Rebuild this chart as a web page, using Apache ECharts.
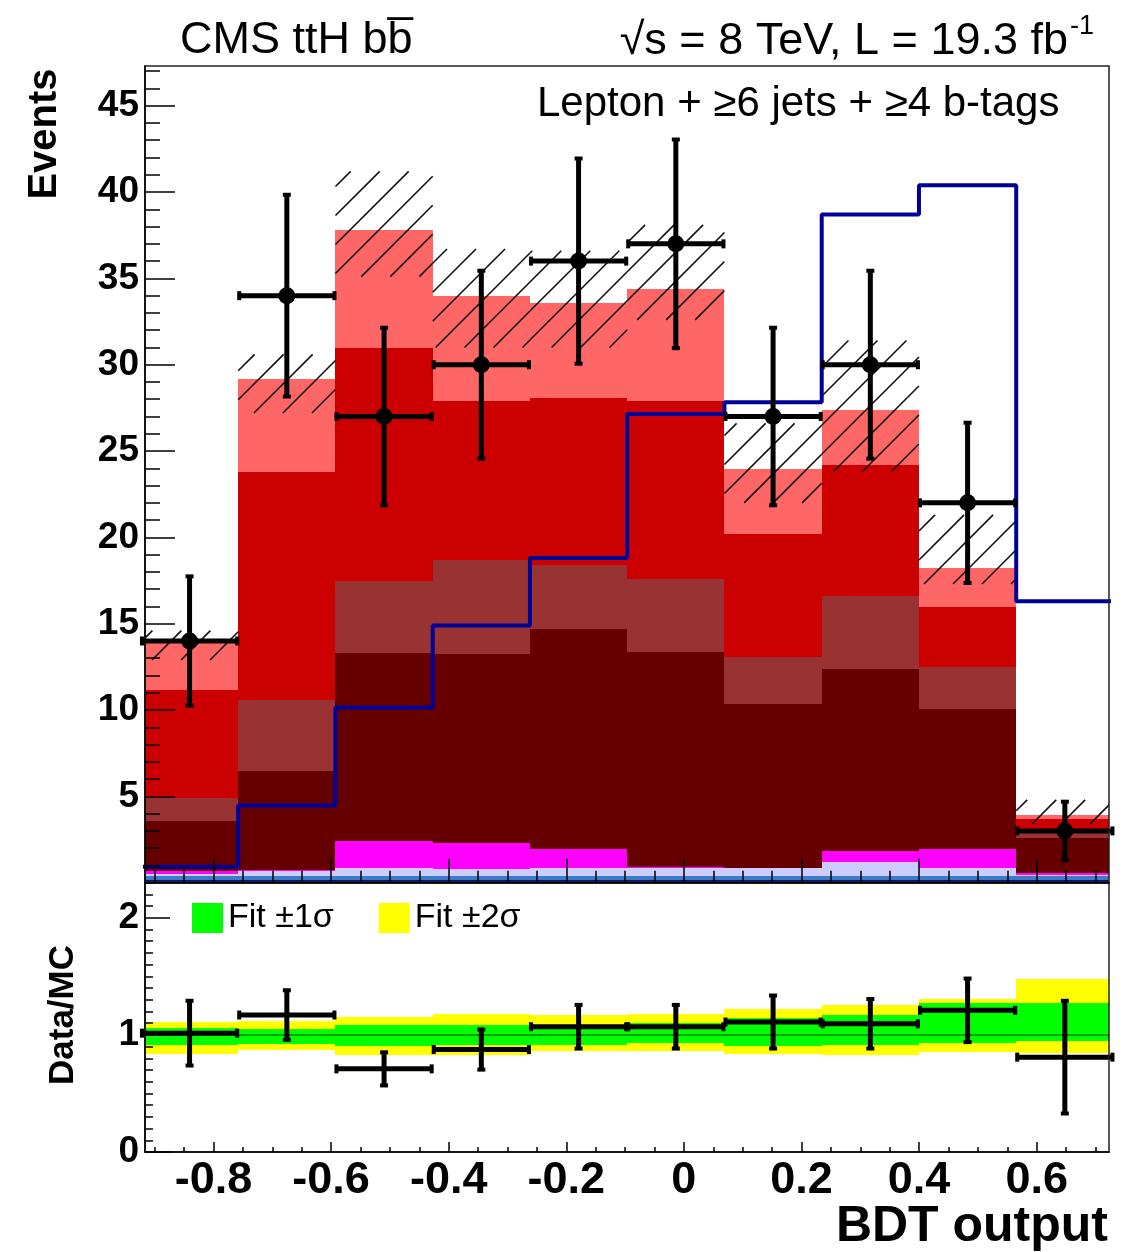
<!DOCTYPE html>
<html>
<head>
<meta charset="utf-8">
<title>CMS ttH bb - BDT output</title>
<script src="https://cdn.jsdelivr.net/npm/echarts@6.0.0/dist/echarts.min.js"></script>
<style>
  html, body { margin: 0; padding: 0; background: #fff; }
  #chart { width: 1127px; height: 1252px; }
</style>
</head>
<body>
<div id="chart"></div>
<script>
// histogram binning (BDT output)
var binEdges = [-0.9234, -0.758, -0.5926, -0.4272, -0.2618, -0.0964, 0.069, 0.2344, 0.3998, 0.5652, 0.7306];

// stacked backgrounds, events per bin, bottom of the stack first
var ttH       = [0.15, 0.15, 0.15, 0.15, 0.15, 0.15, 0.15, 0.15, 0.15, 0.15];
var ewk       = [0.25, 0.25, 0.25, 0.25, 0.25, 0.25, 0.25, 0.25, 0.25, 0.25];
var ttV       = [0.10, 0.28, 0.43, 0.38, 0.48, 0.48, 0.43, 0.78, 0.48, 0.05];
var singleTop = [0.19, 0.03, 1.60, 1.50, 1.07, 0.03, 0.03, 0.67, 1.10, 0.13];
var ttbb      = [2.89, 5.77, 10.85, 10.95, 12.73, 12.47, 9.47, 10.53, 8.10, 2.02];
var ttb       = [1.30, 4.10, 4.20, 5.45, 3.70, 4.20, 2.75, 4.20, 2.40, 0.30];
var ttcc      = [6.30, 13.20, 13.50, 9.20, 9.70, 10.30, 7.10, 7.60, 3.50, 0.80];
var ttlf      = [2.70, 5.40, 6.80, 6.10, 5.50, 6.50, 3.80, 3.20, 2.25, 0.20];

// total background uncertainty (hatched band)
var uncLow  = [12.9, 27.2, 35.1, 31.0, 31.0, 32.6, 22.0, 23.8, 17.3, 3.4];
var uncHigh = [14.6, 30.6, 41.2, 36.7, 36.6, 38.1, 26.6, 31.4, 21.3, 4.8];

// ttH signal (scaled), drawn as a line
var signal = [0.93, 4.47, 10.15, 14.9, 18.8, 27.14, 27.83, 38.7, 40.4, 16.3];

// data
var dataVals = [14, 34, 27, 30, 36, 37, 27, 30, 22, 3];
var dataErr  = [3.8, 5.9, 5.2, 5.5, 6.0, 6.1, 5.2, 5.5, 4.7, 1.75];

// ratio panel
var ratioVals = [1.015, 1.17, 0.71, 0.875, 1.07, 1.07, 1.11, 1.095, 1.21, 0.81];
var ratioErr  = [0.285, 0.22, 0.15, 0.18, 0.195, 0.195, 0.235, 0.22, 0.28, 0.49];
var fit1Low  = [0.91, 0.925, 0.902, 0.91, 0.916, 0.93, 0.902, 0.916, 0.93, 0.945];
var fit1High = [1.058, 1.053, 1.087, 1.081, 1.087, 1.10, 1.143, 1.17, 1.27, 1.27];
var fit2Low  = [0.84, 0.87, 0.826, 0.826, 0.86, 0.86, 0.84, 0.826, 0.85, 0.845];
var fit2High = [1.11, 1.115, 1.149, 1.18, 1.166, 1.18, 1.22, 1.257, 1.305, 1.475];

// axis ticks
var xTicks = [-0.8, -0.6, -0.4, -0.2, 0, 0.2, 0.4, 0.6];
var xTickLabels = ['-0.8', '-0.6', '-0.4', '-0.2', '0', '0.2', '0.4', '0.6'];
var yTicks = [5, 10, 15, 20, 25, 30, 35, 40, 45];
var rTicks = [0, 1, 2];

var FONT = '"Liberation Sans", Arial, Helvetica, sans-serif';

var xMinorTicks = [];
for (var k = -18; k <= 14; k++) xMinorTicks.push(Math.round(k * 5) / 100);
var yMinorTicks = [];
for (var k = 1; k <= 47; k++) yMinorTicks.push(k);
var rMinorTicks = [];
for (var k = 1; k <= 23; k++) rMinorTicks.push(k / 10);

// build stacked rectangles [x0, x1, bottom, top]
var components = [
  { name: 'ttH', vals: ttH, color: '#14145a' },
  { name: 'EWK', vals: ewk, color: '#3a7cc8' },
  { name: 'tt+V', vals: ttV, color: '#ccccff' },
  { name: 'single t', vals: singleTop, color: '#ff00ff' },
  { name: 'tt+bb', vals: ttbb, color: '#660000' },
  { name: 'tt+b', vals: ttb, color: '#993333' },
  { name: 'tt+cc', vals: ttcc, color: '#cc0000' },
  { name: 'tt+lf', vals: ttlf, color: '#ff6666' }
];
var base = dataVals.map(function () { return 0; });
var stackSeries = components.map(function (c) {
  var rows = c.vals.map(function (v, i) {
    var row = [binEdges[i], binEdges[i + 1], base[i], base[i] + v];
    base[i] += v;
    return row;
  });
  return {
    type: 'custom', name: c.name, xAxisIndex: 0, yAxisIndex: 0,
    renderItem: rectItem, clip: true, z: 2,
    itemStyle: { color: c.color },
    encode: { x: [0, 1], y: [2, 3] },
    data: rows
  };
});

function rectItem(params, api) {
  var p0 = api.coord([api.value(0), api.value(3)]);
  var p1 = api.coord([api.value(1), api.value(2)]);
  var x0 = Math.round(p0[0]), x1 = Math.round(p1[0]);
  var y0 = Math.round(p0[1]), y1 = Math.round(p1[1]);
  return {
    type: 'rect',
    shape: { x: x0, y: y0, width: x1 - x0, height: y1 - y0 },
    style: { fill: api.visual('color') }
  };
}

function hatchItem(params, api) {
  var p0 = api.coord([api.value(0), api.value(3)]);
  var p1 = api.coord([api.value(1), api.value(2)]);
  var x0 = p0[0], y0 = p0[1], x1 = p1[0], y1 = p1[1];
  var step = 29, lines = [];
  for (var c = Math.floor((x0 + y0) / step) * step; c <= x1 + y1; c += step) {
    var xa = Math.max(x0, c - y1), xb = Math.min(x1, c - y0);
    if (xb - xa > 1) {
      lines.push({
        type: 'line',
        shape: { x1: xa, y1: c - xa, x2: xb, y2: c - xb },
        style: { stroke: '#111', lineWidth: 1.6 }
      });
    }
  }
  return { type: 'group', children: lines };
}

function makePointItem(marker) {
  return function (params, api) {
    var xc = api.value(0), v = api.value(1), e = api.value(2);
    var c = api.coord([xc, v]);
    var left = api.coord([api.value(3), v])[0];
    var right = api.coord([api.value(4), v])[0];
    var top = api.coord([xc, v + e])[1];
    var bot = api.coord([xc, v - e])[1];
    var st = { stroke: '#000', lineWidth: 5 };
    var kids = [
      { type: 'line', shape: { x1: left, y1: c[1], x2: right, y2: c[1] }, style: st },
      { type: 'line', shape: { x1: c[0], y1: top, x2: c[0], y2: bot }, style: st },
      { type: 'rect', shape: { x: left - 1, y: c[1] - 4.5, width: 4, height: 9 }, style: { fill: '#000' } },
      { type: 'rect', shape: { x: right - 3, y: c[1] - 4.5, width: 4, height: 9 }, style: { fill: '#000' } },
      { type: 'rect', shape: { x: c[0] - 4, y: top - 1, width: 8, height: 4 }, style: { fill: '#000' } },
      { type: 'rect', shape: { x: c[0] - 4, y: bot - 3, width: 8, height: 4 }, style: { fill: '#000' } }
    ];
    if (marker) {
      kids.push({ type: 'circle', shape: { cx: c[0], cy: c[1], r: 8.5 }, style: { fill: '#000' } });
    }
    return { type: 'group', children: kids };
  };
}

function binRows(lo, hi) {
  return lo.map(function (v, i) { return [binEdges[i], binEdges[i + 1], v, hi[i]]; });
}
function pointRows(vals, errs) {
  return vals.map(function (v, i) {
    return [(binEdges[i] + binEdges[i + 1]) / 2, v, errs[i], binEdges[i], binEdges[i + 1]];
  });
}

var signalLine = signal.map(function (v, i) { return [binEdges[i], v]; });
signalLine.push([binEdges[binEdges.length - 1], signal[signal.length - 1]]);

var X_MIN = -0.9165, X_MAX = 0.723;

function xAxisDef(grid, ticks, len, labels) {
  return {
    type: 'value', gridIndex: grid, position: 'bottom', min: X_MIN, max: X_MAX, z: 11,
    axisLine: { show: labels !== null, onZero: false, lineStyle: { color: '#000', width: 1.5 } },
    axisTick: { show: true, inside: true, length: len, customValues: ticks, lineStyle: { color: '#000', width: 1.5 } },
    axisLabel: labels ? {
      show: true, customValues: xTicks, margin: 6,
      fontSize: 45, fontWeight: 'bold', fontFamily: FONT, color: '#000',
      formatter: function (v) {
        for (var i = 0; i < xTicks.length; i++) if (Math.abs(xTicks[i] - v) < 1e-6) return xTickLabels[i];
        return '';
      }
    } : { show: false },
    splitLine: { show: false }
  };
}
function yAxisDef(grid, min, max, ticks, len, labels) {
  return {
    type: 'value', gridIndex: grid, position: 'left', min: min, max: max, z: 11,
    axisLine: { show: labels !== null, onZero: false, lineStyle: { color: '#000', width: 1.5 } },
    axisTick: { show: true, inside: true, length: len, customValues: ticks, lineStyle: { color: '#000', width: 1.5 } },
    axisLabel: labels ? {
      show: true, customValues: labels, margin: 6,
      fontSize: 37, fontWeight: 'bold', fontFamily: FONT, color: '#000'
    } : { show: false },
    splitLine: { show: false }
  };
}

var chart = echarts.init(document.getElementById('chart'));
chart.setOption({
  animation: false,
  backgroundColor: '#fff',
  grid: [
    { left: 145, top: 66, width: 964, height: 816.7, show: true, z: 10,
      backgroundColor: 'rgba(0,0,0,0)', borderColor: '#222', borderWidth: 1.5 },
    { left: 145, top: 882.7, width: 964, height: 269.3, show: true, z: 10,
      backgroundColor: 'rgba(0,0,0,0)', borderColor: '#222', borderWidth: 1.5 }
  ],
  xAxis: [
    xAxisDef(0, xTicks, 24, false),
    xAxisDef(0, xMinorTicks, 12, null),
    xAxisDef(1, xTicks, 10, true),
    xAxisDef(1, xMinorTicks, 5, null)
  ],
  yAxis: [
    yAxisDef(0, 0, 47.3, yTicks, 30, yTicks),
    yAxisDef(0, 0, 47.3, yMinorTicks, 15, null),
    yAxisDef(1, 0, 2.3, rTicks, 25, rTicks),
    yAxisDef(1, 0, 2.3, rMinorTicks, 8, null)
  ],
  legend: {
    data: ['Fit ±1σ', 'Fit ±2σ'],
    left: 187, top: 896, icon: 'rect', itemWidth: 31, itemHeight: 30, itemGap: 45,
    selectedMode: false,
    textStyle: { fontSize: 34, fontFamily: FONT, color: '#000' }
  },
  graphic: [
    { type: 'text', x: 180, y: 41, style: { text: 'CMS ttH bb\u0305', fontSize: 45, fontFamily: FONT, fill: '#000', align: 'left', verticalAlign: 'middle' } },
    { type: 'text', x: 1068, y: 42, style: { text: '\u221As = 8 TeV, L = 19.3 fb', fontSize: 45, fontFamily: FONT, fill: '#000', align: 'right', verticalAlign: 'middle' } },
    { type: 'text', x: 1070, y: 27, style: { text: '-1', fontSize: 27, fontFamily: FONT, fill: '#000', align: 'left', verticalAlign: 'middle' } },
    { type: 'text', x: 537, y: 104, style: { text: 'Lepton + \u22656 jets + \u22654 b-tags', fontSize: 42, fontFamily: FONT, fill: '#000', align: 'left', verticalAlign: 'middle' } },
    { type: 'text', x: 45, y: 134, rotation: Math.PI / 2, style: { text: 'Events', fontSize: 40, fontWeight: 'bold', fontFamily: FONT, fill: '#000', align: 'center', verticalAlign: 'middle' } },
    { type: 'text', x: 63, y: 1015, rotation: Math.PI / 2, style: { text: 'Data/MC', fontSize: 35, fontWeight: 'bold', fontFamily: FONT, fill: '#000', align: 'center', verticalAlign: 'middle' } },
    { type: 'text', x: 1108, y: 1227, style: { text: 'BDT output', fontSize: 50, fontWeight: 'bold', fontFamily: FONT, fill: '#000', align: 'right', verticalAlign: 'middle' } }
  ],
  series: stackSeries.concat([
    {
      type: 'custom', name: 'uncertainty', xAxisIndex: 0, yAxisIndex: 0, z: 3, clip: true,
      renderItem: hatchItem, encode: { x: [0, 1], y: [2, 3] },
      data: binRows(uncLow, uncHigh)
    },
    {
      type: 'line', name: 'ttH signal', xAxisIndex: 0, yAxisIndex: 0, z: 4,
      step: 'end', symbol: 'none', clip: true,
      lineStyle: { color: '#000099', width: 4 },
      data: signalLine
    },
    {
      type: 'custom', name: 'Data', xAxisIndex: 0, yAxisIndex: 0, z: 5,
      renderItem: makePointItem(true), encode: { x: 0, y: 1 },
      data: pointRows(dataVals, dataErr)
    },
    {
      type: 'custom', name: 'Fit ±2σ', xAxisIndex: 2, yAxisIndex: 2, z: 2, clip: true,
      renderItem: rectItem, itemStyle: { color: '#ffff00' }, encode: { x: [0, 1], y: [2, 3] },
      data: binRows(fit2Low, fit2High)
    },
    {
      type: 'custom', name: 'Fit ±1σ', xAxisIndex: 2, yAxisIndex: 2, z: 3, clip: true,
      renderItem: rectItem, itemStyle: { color: '#00ff00' }, encode: { x: [0, 1], y: [2, 3] },
      data: binRows(fit1Low, fit1High)
    },
    {
      type: 'line', name: 'unity', xAxisIndex: 2, yAxisIndex: 2, z: 4, symbol: 'none',
      lineStyle: { color: '#00a000', width: 2 },
      data: [[X_MIN, 1], [X_MAX, 1]]
    },
    {
      type: 'custom', name: 'Data/MC', xAxisIndex: 2, yAxisIndex: 2, z: 5,
      renderItem: makePointItem(false), encode: { x: 0, y: 1 },
      data: pointRows(ratioVals, ratioErr)
    }
  ])
});
</script>
</body>
</html>
